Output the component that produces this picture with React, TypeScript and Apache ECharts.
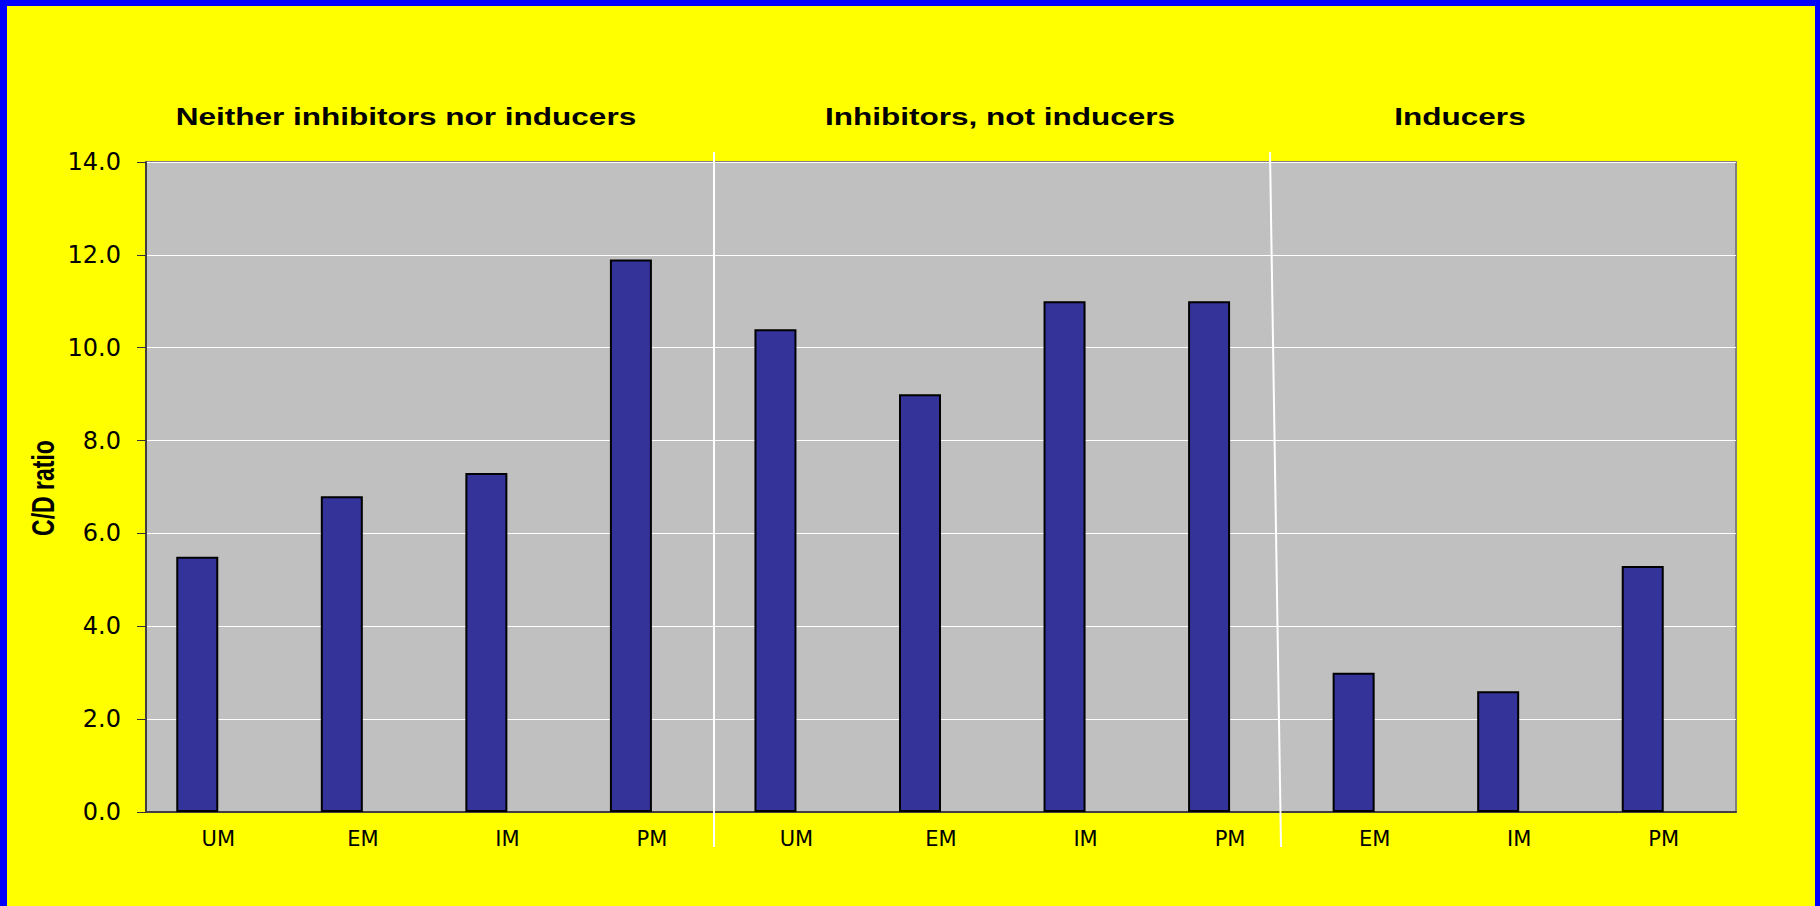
import React, { useEffect, useRef } from "react";
import * as echarts from "echarts";

const categories = ["UM", "EM", "IM", "PM", "UM", "EM", "IM", "PM", "EM", "IM", "PM"];
const cdRatio = [5.5, 6.8, 7.3, 11.9, 10.4, 9.0, 11.0, 11.0, 3.0, 2.6, 5.3];
const groupTitles = ["Neither inhibitors nor inducers", "Inhibitors, not inducers", "Inducers"];
const yAxisTitle = "C/D ratio";

export default function App() {
  const ref = useRef<HTMLDivElement>(null);
  useEffect(() => {
    if (!ref.current) return;
    const chart = echarts.init(ref.current, null, { renderer: "svg" });
    const titleX = [406, 1000, 1460];
    const option: any = {
      animation: false,
      backgroundColor: "#FFFF00",
      grid: {
        left: 146,
        right: 84,
        top: 162,
        bottom: 94,
        show: true,
        backgroundColor: "#C0C0C0",
        borderColor: "#808080",
        borderWidth: 2,
      },
      xAxis: {
        type: "category",
        data: categories,
        axisLine: { show: true, lineStyle: { color: "#404040", width: 2 } },
        axisTick: { show: false },
        axisLabel: {
          margin: 16,
          fontFamily: "DejaVu Sans",
          fontSize: 21,
          color: "#000",
        },
        splitLine: { show: false },
      },
      yAxis: {
        type: "value",
        min: 0,
        max: 14,
        interval: 2,
        axisLine: { show: true, lineStyle: { color: "#404040", width: 2 } },
        axisTick: { show: true, inside: false, length: 9, lineStyle: { color: "#333", width: 1 } },
        axisLabel: {
          margin: 25,
          fontFamily: "DejaVu Sans",
          fontSize: 24,
          color: "#000",
          formatter: (v: number) => v.toFixed(1),
        },
        splitLine: { show: true, lineStyle: { color: "#FFFFFF", width: 1 } },
      },
      series: [
        {
          name: yAxisTitle,
          type: "bar",
          data: cdRatio,
          barWidth: 42,
          barGap: "0%",
          itemStyle: { color: "#333399", borderColor: "#000000", borderWidth: 2 },
        },
        {
          name: "spacer",
          type: "bar",
          data: [],
          barWidth: 42,
          barGap: "0%",
        },
      ],
      graphic: [
        { type: "rect", shape: { x: 0, y: 0, width: 7, height: 906 }, style: { fill: "#0000FF" }, silent: true },
        { type: "rect", shape: { x: 0, y: 0, width: 1820, height: 6 }, style: { fill: "#0000FF" }, silent: true },
        { type: "rect", shape: { x: 1815, y: 0, width: 5, height: 906 }, style: { fill: "#0000FF" }, silent: true },
        { type: "line", shape: { x1: 714, y1: 152, x2: 714, y2: 847 }, style: { stroke: "#FFFFFF", lineWidth: 2 }, z: 10 },
        { type: "line", shape: { x1: 1270, y1: 152, x2: 1281, y2: 847 }, style: { stroke: "#FFFFFF", lineWidth: 2 }, z: 10 },
        ...groupTitles.map((t, i) => ({
          type: "text",
          x: titleX[i],
          y: 117,
          scaleX: 1.37,
          style: {
            text: t,
            fontFamily: "Liberation Sans",
            fontWeight: "bold",
            fontSize: 23,
            fill: "#000",
            align: "center",
            verticalAlign: "middle",
          },
        })),
        {
          type: "text",
          x: 43,
          y: 488,
          rotation: Math.PI / 2,
          scaleY: 1.37,
          style: {
            text: yAxisTitle,
            fontFamily: "Liberation Sans",
            fontWeight: "bold",
            fontSize: 23,
            fill: "#000",
            align: "center",
            verticalAlign: "middle",
          },
        },
      ],
    };
    chart.setOption(option);
    return () => chart.dispose();
  }, []);
  return (
    <div
      ref={ref}
      style={{ position: "fixed", left: 0, top: 0, width: 1820, height: 906 }}
    />
  );
}
